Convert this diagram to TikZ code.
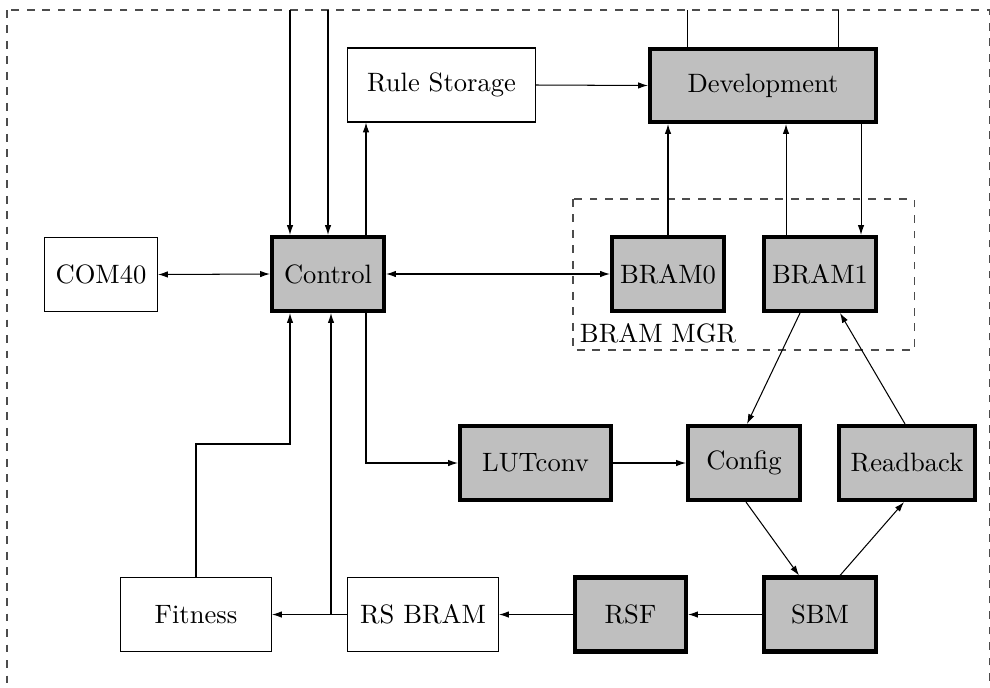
\documentclass[tikz,border=0pt]{standalone}
\usetikzlibrary{arrows.meta}
\newcommand\pxu{0.3876pt}
\begin{document}
\begin{tikzpicture}[x=0.3876pt, y=-0.3876pt,
  every node/.style={font=\fontsize{10.3}{12}\selectfont},
  thinbox/.style={draw, line width=0.4pt, fill=white, inner sep=0pt, minimum height={74*\pxu}},
  thickbox/.style={draw, line width=1.6pt, fill=lightgray, inner sep=0pt, minimum height={74*\pxu}},
  wire/.style={line width=0.4pt},
  arr/.style={wire, -{Latex[length=3.8pt,width=2.5pt]}},
  dbl/.style={wire, {Latex[length=3.8pt,width=2.5pt]}-{Latex[length=3.8pt,width=2.5pt]}},
  frame/.style={dashed, black!70, line width=0.4pt}]
\useasboundingbox (0,0) rectangle (990,687);
\clip (0,0) rectangle (990,687);

% outer module boundary
\draw[frame] (7,10) rectangle (989,760);

% BRAM manager group
\draw[frame] (573,199) rectangle (914,350);
\node[anchor=south west, inner sep=2.5pt] (mgrlabel) at (573,350) {BRAM MGR};

% blocks
\node[thinbox, minimum width={188*\pxu}] (RuleStorage) at (441.5,85) {Rule Storage};
\node[thickbox, minimum width={226*\pxu}, minimum height={73*\pxu}] (Development) at (763,85.5) {Development};
\node[thinbox, minimum width={113*\pxu}] (COM) at (101,274.5) {COM40};
\node[thickbox, minimum width={112*\pxu}] (Control) at (328,274) {Control};
\node[thickbox, minimum width={112*\pxu}] (BRAMa) at (668,274) {BRAM0};
\node[thickbox, minimum width={112*\pxu}] (BRAMb) at (820,274) {BRAM1};
\node[thickbox, minimum width={151*\pxu}] (LUTconv) at (535.5,463) {LUTconv};
\node[thickbox, minimum width={112*\pxu}] (Config) at (744,463) {Config};
\node[thickbox, minimum width={136*\pxu}] (Readback) at (907,463) {Readback};
\node[thickbox, minimum width={112*\pxu}] (SBM) at (820,614.5) {SBM};
\node[thickbox, minimum width={111*\pxu}] (RSF) at (630.5,614.5) {RSF};
\node[thinbox, minimum width={151*\pxu}] (RSBRAM) at (423,614.5) {RS BRAM};
\node[thinbox, minimum width={151*\pxu}] (Fitness) at (196,614.5) {Fitness};

% guide coordinates
\coordinate (inA) at (290,10);
\coordinate (inB) at (328,10);
\coordinate (devA) at (687,10);
\coordinate (devB) at (838,10);
\coordinate (ctlR) at (366,0);
\coordinate (fitBend) at (290,444);
\coordinate (rsTap) at (331,0);

% external inputs
\draw[arr] (inA) -- (inA |- Control.north);
\draw[arr] (inB) -- (inB |- Control.north);
\draw[wire] (devA) -- (devA |- Development.north);
\draw[wire] (devB) -- (devB |- Development.north);

% top row
\draw[arr] (RuleStorage.east) -- (Development.west);
\draw[arr] (ctlR |- Control.north) -- (ctlR |- RuleStorage.south);

% middle row
\draw[dbl] (COM.east) -- (Control.west);
\draw[dbl] (Control.east) -- (BRAMa.west);
\draw[arr] (BRAMa.north) -- (BRAMa.north |- Development.south);
\draw[arr] ([xshift={-34*\pxu}]BRAMb.north) -- ([xshift={-34*\pxu}]BRAMb.north |- Development.south);
\draw[arr] ([xshift={41*\pxu}]BRAMb.north |- Development.south) -- ([xshift={41*\pxu}]BRAMb.north);

% configuration loop
\draw[arr] (ctlR |- Control.south) |- (LUTconv.west);
\draw[arr] (LUTconv.east) -- (Config.west);
\draw[arr] ([xshift={-20*\pxu}]BRAMb.south) -- ([xshift={3*\pxu}]Config.north);
\draw[arr] ([xshift={-2*\pxu}]Readback.north) -- ([xshift={20*\pxu}]BRAMb.south);
\draw[arr] ([xshift={2*\pxu}]Config.south) -- ([xshift={-21*\pxu}]SBM.north);
\draw[arr] ([xshift={20*\pxu}]SBM.north) -- ([xshift={-3*\pxu}]Readback.south);

% bottom row
\draw[arr] (SBM.west) -- (RSF.east);
\draw[arr] (RSF.west) -- (RSBRAM.east);
\draw[arr] (RSBRAM.west) -- (Fitness.east);
\draw[arr] (RSBRAM.west -| rsTap) -- (rsTap |- Control.south);
\draw[arr] (Fitness.north) |- (fitBend) -- (fitBend |- Control.south);
\end{tikzpicture}
\end{document}
